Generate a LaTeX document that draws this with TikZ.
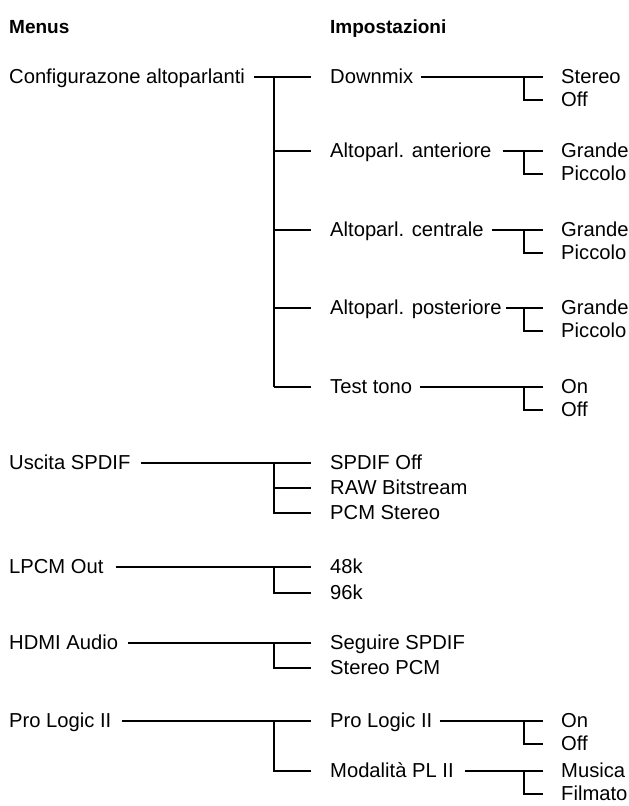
\documentclass[tikz,border=0pt]{standalone}
\usepackage{fontspec}
\setmainfont{Liberation Sans}
\begin{document}
\begin{tikzpicture}[x=1pt,y=-1pt,
  lbl/.style={anchor=base west,inner sep=0pt,font=\fontsize{20.2}{24}\selectfont},
  hdr/.style={lbl,font=\fontsize{19}{24}\selectfont\bfseries},
  conn/.style={line width=1.2pt,line cap=butt}]
\useasboundingbox (0,0) rectangle (629,806);
% headers
\node[hdr] (hm) at (9,33) {Menus};
\node[hdr] (hi) at (330,33) {Impostazioni};
% level 1
\node[lbl] (cfg) at (9,83) {Configurazone altoparlanti};
\node[lbl] (usc) at (9,469) {Uscita SPDIF};
\node[lbl] (lpcm) at (9,573) {LPCM Out};
\node[lbl] (hdmi) at (9,649) {HDMI Audio};
\node[lbl] (plg) at (9,727) {Pro Logic II};
% level 2
\node[lbl] (dmx) at (330,83) {Downmix};
\node[lbl] (ant) at (330,157) {Altoparl. anteriore};
\node[lbl] (cen) at (330,236) {Altoparl. centrale};
\node[lbl] (pos) at (330,314) {Altoparl. posteriore};
\node[lbl] (tst) at (330,393) {Test tono};
\node[lbl] (soff) at (330,469) {SPDIF Off};
\node[lbl] (raw) at (330,494) {RAW Bitstream};
\node[lbl] (pcm) at (330,519) {PCM Stereo};
\node[lbl] (k48) at (330,573) {48k};
\node[lbl] (k96) at (330,599) {96k};
\node[lbl] (seg) at (330,649) {Seguire SPDIF};
\node[lbl] (spcm) at (330,674) {Stereo PCM};
\node[lbl] (pl2) at (330,727) {Pro Logic II};
\node[lbl] (mod) at (330,777) {Modalità PL II};
% level 3
\node[lbl] (dst) at (561,83) {Stereo};
\node[lbl] (dof) at (561,106) {Off};
\node[lbl] (ag) at (561,157) {Grande};
\node[lbl] (ap) at (561,180) {Piccolo};
\node[lbl] (cg) at (561,236) {Grande};
\node[lbl] (cp) at (561,259) {Piccolo};
\node[lbl] (pg) at (561,314) {Grande};
\node[lbl] (pp) at (561,337) {Piccolo};
\node[lbl] (ton) at (561,393) {On};
\node[lbl] (tof) at (561,416) {Off};
\node[lbl] (pon) at (561,727) {On};
\node[lbl] (pof) at (561,750) {Off};
\node[lbl] (mmu) at (561,777) {Musica};
\node[lbl] (mfi) at (561,800) {Filmato};
% connector start points (just right of each text)
\coordinate (s-cfg) at ([xshift=9pt]cfg.base east |- 0,77);
\coordinate (s-usc) at ([xshift=10pt]usc.base east |- 0,463);
\coordinate (s-lpcm) at ([xshift=12pt]lpcm.base east |- 0,567);
\coordinate (s-hdmi) at ([xshift=10pt]hdmi.base east |- 0,643);
\coordinate (s-plg) at ([xshift=10pt]plg.base east |- 0,721);
\coordinate (s-dmx) at ([xshift=8pt]dmx.base east |- 0,77);
\coordinate (s-ant) at ([xshift=11pt]ant.base east |- 0,151);
\coordinate (s-cen) at ([xshift=8pt]cen.base east |- 0,230);
\coordinate (s-pos) at ([xshift=4pt]pos.base east |- 0,308);
\coordinate (s-tst) at ([xshift=8pt]tst.base east |- 0,387);
\coordinate (s-pl2) at ([xshift=7pt]pl2.base east |- 0,721);
\coordinate (s-mod) at ([xshift=11pt]mod.base east |- 0,771);
% level 1 -> level 2
\draw[conn] (s-cfg) -- (311,77);
\draw[conn] (274,77) -- (274,387);
\foreach \yy in {151,230,308,387} \draw[conn] (274,\yy) -- (311,\yy);
\draw[conn] (s-usc) -- (311,463);
\draw[conn] (274,463) -- (274,513) -- (311,513);
\draw[conn] (274,488) -- (311,488);
\draw[conn] (s-lpcm) -- (311,567);
\draw[conn] (274,567) -- (274,593) -- (311,593);
\draw[conn] (s-hdmi) -- (311,643);
\draw[conn] (274,643) -- (274,668) -- (311,668);
\draw[conn] (s-plg) -- (311,721);
\draw[conn] (274,721) -- (274,771) -- (311,771);
% level 2 -> level 3
\draw[conn] (s-dmx) -- (543,77);
\draw[conn] (524,77) -- (524,100) -- (543,100);
\draw[conn] (s-ant) -- (543,151);
\draw[conn] (524,151) -- (524,174) -- (543,174);
\draw[conn] (s-cen) -- (543,230);
\draw[conn] (524,230) -- (524,253) -- (543,253);
\draw[conn] (s-pos) -- (543,308);
\draw[conn] (524,308) -- (524,331) -- (543,331);
\draw[conn] (s-tst) -- (543,387);
\draw[conn] (524,387) -- (524,410) -- (543,410);
\draw[conn] (s-pl2) -- (543,721);
\draw[conn] (524,721) -- (524,744) -- (543,744);
\draw[conn] (s-mod) -- (543,771);
\draw[conn] (524,771) -- (524,794) -- (543,794);
\end{tikzpicture}
\end{document}
